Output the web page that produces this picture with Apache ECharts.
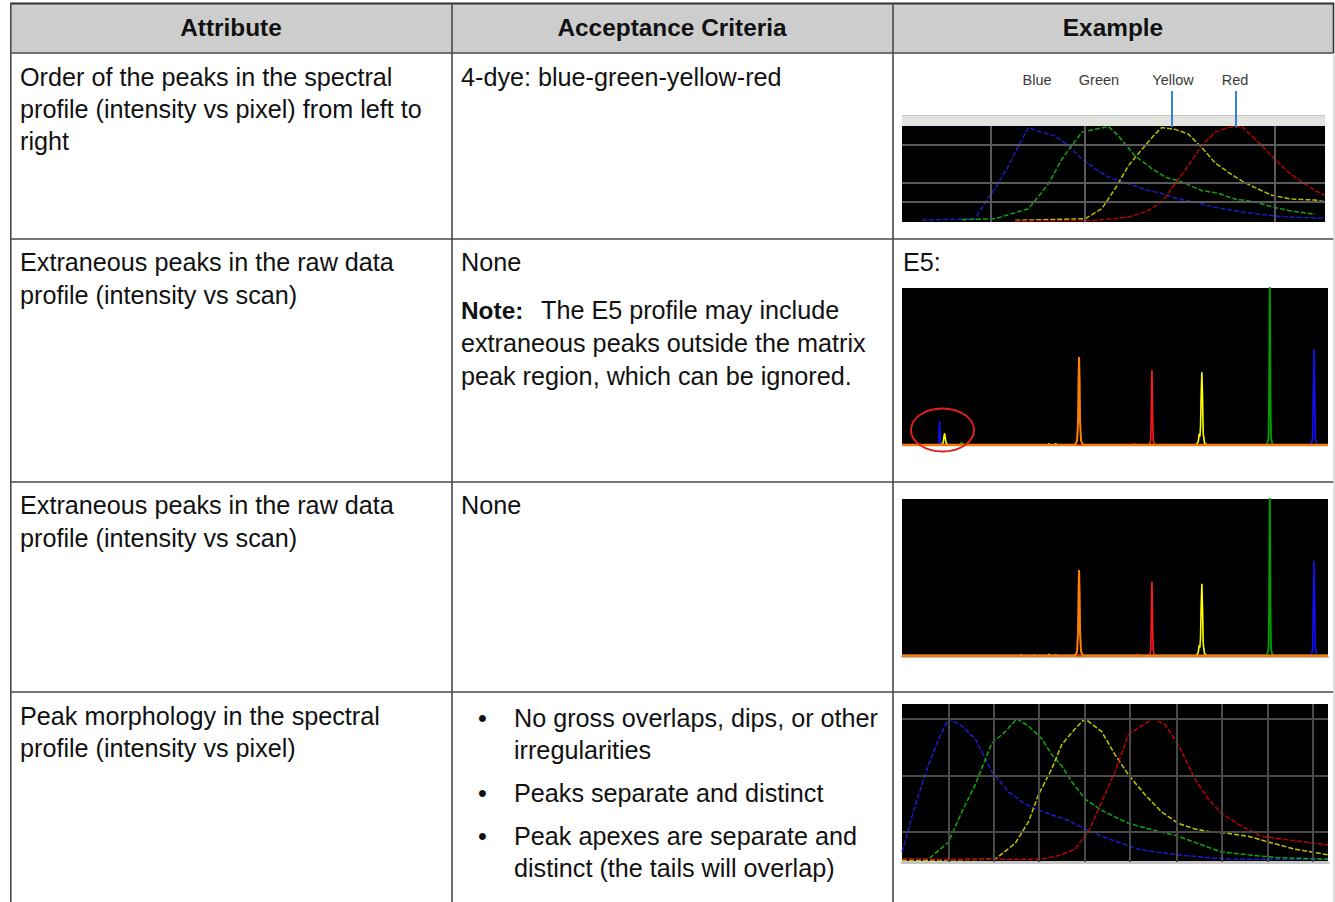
<!DOCTYPE html>
<html><head><meta charset="utf-8">
<script src="https://cdn.jsdelivr.net/npm/echarts@6/dist/echarts.min.js"></script>
<style>html,body{margin:0;padding:0;background:#fff}#main{width:1335px;height:902px}</style>
</head><body><div id="main"></div>
<script>
// ---------- table texts ----------
const headers = ['Attribute', 'Acceptance Criteria', 'Example'];
const attr1 = ['Order of the peaks in the spectral', 'profile (intensity vs pixel) from left to', 'right'];
const attr2 = ['Extraneous peaks in the raw data', 'profile (intensity vs scan)'];
const attr3 = ['Extraneous peaks in the raw data', 'profile (intensity vs scan)'];
const attr4 = ['Peak morphology in the spectral', 'profile (intensity vs pixel)'];
const crit1 = '4-dye: blue-green-yellow-red';
const crit2 = 'None';
const noteLabel = 'Note:';
const noteLines = ['The E5 profile may include', 'extraneous peaks outside the matrix', 'peak region, which can be ignored.'];
const crit3 = 'None';
const bullets4 = [['No gross overlaps, dips, or other', 'irregularities'], ['Peaks separate and distinct'], ['Peak apexes are separate and', 'distinct (the tails will overlap)']];
const dyeLabels = ['Blue', 'Green', 'Yellow', 'Red'];
const e5Label = 'E5:';

// ---------- example 1: spectral profile (pixel, intensity %) ----------
const spec1Blue = [[6,2],[22,3.5],[25,21],[28,35],[32,59],[35,80],[38,99],[41,95],[46,90],[50,80],[54,66],[58,56],[62,47],[68,40],[74,33],[78,30],[83,24],[88,21],[93,16],[98,13],[103,10],[108,8],[113,6],[118,5],[127,4]];
const spec1Green = [[18,2.4],[28,3.5],[38,14],[44,40],[48,66],[51,80],[54,94],[58,97],[62,100],[65,90],[70,69],[75,56],[79,47],[84,42],[90,33],[95,30],[100,24],[106,21],[111,16],[116,12],[124,8]];
const spec1Yellow = [[34,1.7],[55,3.5],[60,14],[64,35],[68,59],[72,76],[76,92],[78,99],[82,97],[86,92],[90,78],[94,62],[98,52],[102,43],[106,36],[111,28],[117,24],[124,23],[127,21]];
const spec1Red = [[34,1],[58,1.7],[68,5],[74,12],[78,21],[82,40],[86,59],[90,80],[94,94],[98,99],[102,100],[106,87],[111,69],[116,52],[120,42],[124,33],[127,28]];
const spec1GridX = [26.5, 55, 112];
const spec1GridY = [81, 40.6, 20.8];

// ---------- example 2: E5 raw data (scan, RFU) ----------
const e5Blue = [[0,0],[540,0],[555,150],[560,700],[565,1220],[570,700],[575,150],[590,0],[6140,0],[6170,300],[6180,2600],[6190,4880],[6200,2600],[6210,300],[6240,0],[6400,0]];
const e5Green = [[0,0],[880,0],[895,140],[910,0],[5480,0],[5505,300],[5515,2500],[5520,6000],[5525,8400],[5530,6000],[5535,2500],[5545,300],[5570,0],[6400,0]];
const e5Yellow = [[0,0],[600,0],[620,150],[632,450],[640,590],[648,400],[660,120],[690,0],[2200,0],[2210,60],[2220,0],[2300,0],[2310,80],[2320,0],[4420,0],[4450,150],[4465,560],[4475,420],[4485,900],[4495,2600],[4505,3700],[4515,2400],[4525,600],[4545,100],[4580,0],[6400,0]];
const e5Red = [[0,0],[3480,0],[3490,80],[3500,0],[3710,0],[3735,200],[3745,1400],[3750,3000],[3755,3820],[3760,3000],[3765,1400],[3775,200],[3800,0],[6400,0]];
const e5Orange = [[0,0],[2600,0],[2630,200],[2645,1200],[2652,3200],[2660,4480],[2668,3200],[2675,1200],[2690,200],[2720,0],[6400,0]];

// ---------- example 3: matrix raw data (scan, RFU) ----------
const mxBlue = [[0,0],[6140,0],[6170,300],[6180,2600],[6190,4820],[6200,2600],[6210,300],[6240,0],[6400,0]];
const mxGreen = [[0,0],[5480,0],[5505,300],[5515,2500],[5520,6000],[5525,8400],[5530,6000],[5535,2500],[5545,300],[5570,0],[6400,0]];
const mxYellow = [[0,0],[1780,0],[1790,60],[1800,0],[1980,0],[1990,50],[2000,0],[2200,0],[2210,80],[2220,0],[2300,0],[2310,60],[2320,0],[4420,0],[4450,150],[4465,530],[4475,400],[4485,900],[4495,2600],[4505,3670],[4515,2400],[4525,600],[4545,100],[4580,0],[6400,0]];
const mxRed = [[0,0],[3520,0],[3530,90],[3540,0],[3710,0],[3735,200],[3745,1400],[3750,2900],[3755,3770],[3760,2900],[3765,1400],[3775,200],[3800,0],[6400,0]];
const mxOrange = [[0,0],[2600,0],[2630,200],[2645,1200],[2652,3100],[2660,4370],[2668,3100],[2675,1200],[2690,200],[2720,0],[6400,0]];

// ---------- example 4: spectral profile morphology (pixel, intensity %) ----------
const spec4Blue = [[0,7],[4,40],[8,68],[11,86],[14,100],[18,95],[22,86],[27,63],[32,49],[36,42],[40,37],[45,33],[50,29],[55,23],[60,18],[66,13],[71,9],[76,7],[83,5],[92,3],[100,2],[128,2]];
const spec4Green = [[0,2],[8,2],[14,14],[18,35],[22,54],[27,83],[31,91],[34.5,100],[38,95],[42,86],[45,75],[48,67],[51,56],[55,44],[60,36],[68,27],[76,22],[83,18],[90,12],[96,7],[104,5],[113,3],[128,2]];
const spec4Yellow = [[0,1],[28,2],[34,13],[38,28],[41,47],[45,65],[48,82],[52,93],[55,100],[60,91],[64,75],[68,61],[73,47],[78,35],[83,27],[88,23],[93,21],[98,20],[104,18],[110,14],[118,9],[128,5]];
const spec4Red = [[0,2],[42,2],[48,5],[52,9],[56,21],[60,42],[64,63],[68,89],[72,95],[75.5,100],[79,96],[83,82],[88,58],[92,44],[96,34],[102,25],[108,18],[114,16],[121,14],[128,12]];
const spec4GridX = [14, 27.5, 41, 55, 68.5, 82.5, 96, 110, 123.5];
const spec4GridY = [100, 60.3, 21.3];

// ---------- build ----------
const FONT = '"Liberation Sans", Arial, Helvetica, sans-serif';
function T(text, x, y, o) {
  o = o || {};
  return { type: 'text', z: 50, style: { text: text, x: x, y: y,
    font: (o.bold ? 'bold ' : '') + (o.size || 25.2) + 'px ' + FONT,
    fill: o.fill || '#111', textAlign: o.align || 'left', textVerticalAlign: 'middle' } };
}
function L(x1, y1, x2, y2, stroke, w, z) {
  return { type: 'line', z: z || 40, shape: { x1: x1, y1: y1, x2: x2, y2: y2 }, style: { stroke: stroke, lineWidth: w } };
}

const graphics = [];
graphics.push({ type: 'rect', z: 1, shape: { x: 11, y: 4, width: 1322, height: 49 }, style: { fill: '#cdcdcd' } });
const B = '#4a4a4a';
graphics.push(L(10, 3.5, 1334, 3.5, '#333', 2));
graphics.push(L(10, 53, 1334, 53, B, 1.6));
graphics.push(L(10, 239, 1334, 239, B, 1.6));
graphics.push(L(10, 482, 1334, 482, B, 1.6));
graphics.push(L(10, 692, 1334, 692, B, 1.6));
graphics.push(L(10.8, 3, 10.8, 902, B, 1.6));
graphics.push(L(452, 3, 452, 902, B, 1.6));
graphics.push(L(893, 3, 893, 902, B, 1.6));
graphics.push(L(1333.5, 3, 1333.5, 53, '#333', 1.6));
graphics.push(L(1334, 53, 1334, 902, '#d4d4d4', 1.5));

// header texts
graphics.push(T(headers[0], 231, 27, { bold: true, align: 'center', size: 24.4 }));
graphics.push(T(headers[1], 672, 27, { bold: true, align: 'center', size: 24.4 }));
graphics.push(T(headers[2], 1113, 27, { bold: true, align: 'center', size: 24.4 }));

// row 1
attr1.forEach((s, i) => graphics.push(T(s, 20, 77 + i * 32)));
graphics.push(T(crit1, 461, 77));
// row 2
attr2.forEach((s, i) => graphics.push(T(s, 20, 262 + i * 33)));
graphics.push(T(crit2, 461, 262));
graphics.push(T(noteLabel, 461, 310, { bold: true, size: 24.4 }));
graphics.push(T(noteLines[0], 541, 310));
graphics.push(T(noteLines[1], 461, 343));
graphics.push(T(noteLines[2], 461, 376));
graphics.push(T(e5Label, 903, 262));
// row 3
attr3.forEach((s, i) => graphics.push(T(s, 20, 505 + i * 33)));
graphics.push(T(crit3, 461, 505));
// row 4
attr4.forEach((s, i) => graphics.push(T(s, 20, 716 + i * 32)));
let by = 718;
bullets4.forEach(b => {
  graphics.push(T('\u2022', 478, by));
  b.forEach((s, i) => { graphics.push(T(s, 514, by + i * 32)); });
  by += (b.length - 1) * 32 + 43;
});

// example 1 header strip & labels
graphics.push({ type: 'rect', z: 5, shape: { x: 902, y: 115, width: 423, height: 11 }, style: { fill: '#e3e3df' } });
graphics.push(L(902, 115.5, 1325, 115.5, '#c6c6c6', 1.2, 6));
const dyeX = [1037, 1099, 1173, 1235];
dyeLabels.forEach((s, i) => graphics.push(T(s, dyeX[i], 80, { size: 14.5, fill: '#3a3a3a', align: 'center' })));
graphics.push(L(1172, 91, 1172, 127, '#2f86c8', 2, 60));
graphics.push(L(1236, 91, 1236, 127, '#2f86c8', 2, 60));
// red ellipse on E5
graphics.push({ type: 'ellipse', z: 100, shape: { cx: 942.5, cy: 430, rx: 31.5, ry: 21.5 }, style: { fill: 'none', stroke: '#e0201c', lineWidth: 2 } });

function gridLineSeries(xi, xs, ys, color) {
  return { type: 'line', xAxisIndex: xi, yAxisIndex: xi, z: 1, data: [[xs[0], ys[0]]], showSymbol: false,
    lineStyle: { opacity: 0 }, silent: true,
    markLine: { silent: true, symbol: 'none', label: { show: false }, animation: false,
      lineStyle: { color: color, width: 2, type: 'solid' },
      data: xs.map(v => ({ xAxis: v })).concat(ys.map(v => ({ yAxis: v }))) } };
}
function S(idx, data, color, w, dashed) {
  return { type: 'line', xAxisIndex: idx, yAxisIndex: idx, z: 3, data: data, showSymbol: false, silent: true,
    lineStyle: { color: color, width: w, type: dashed ? [5, 2] : 'solid' } };
}

const option = {
  animation: false,
  backgroundColor: '#fff',
  graphic: { elements: graphics },
  grid: [
    { left: 902, top: 126, width: 423, height: 96, show: true, backgroundColor: '#000', borderWidth: 0 },
    { left: 902, top: 288, width: 426, height: 158, show: true, backgroundColor: '#000', borderWidth: 0 },
    { left: 902, top: 499, width: 426, height: 158, show: true, backgroundColor: '#000', borderWidth: 0 },
    { left: 902, top: 704, width: 426, height: 158, show: true, backgroundColor: '#000', borderWidth: 0 }
  ],
  xAxis: [
    { gridIndex: 0, type: 'value', min: 0, max: 127, show: false },
    { gridIndex: 1, type: 'value', min: 0, max: 6400, axisLine: { show: true, onZero: false, lineStyle: { color: '#e8e8e8', width: 1 } }, axisTick: { show: false }, axisLabel: { show: false }, splitLine: { show: false } },
    { gridIndex: 2, type: 'value', min: 0, max: 6400, axisLine: { show: true, onZero: false, lineStyle: { color: '#bdbdbd', width: 2 } }, axisTick: { show: false }, axisLabel: { show: false }, splitLine: { show: false } },
    { gridIndex: 3, type: 'value', min: 0, max: 128, axisLine: { show: true, onZero: false, lineStyle: { color: '#c4c4c4', width: 3 } }, axisTick: { show: false }, axisLabel: { show: false }, splitLine: { show: false } }
  ],
  yAxis: [
    { gridIndex: 0, type: 'value', min: 0, max: 100.5, show: false },
    { gridIndex: 1, type: 'value', min: -60, max: 8000, show: false },
    { gridIndex: 2, type: 'value', min: -70, max: 8000, show: false },
    { gridIndex: 3, type: 'value', min: 0, max: 110.3, show: false }
  ],
  series: [
    gridLineSeries(0, spec1GridX, spec1GridY, '#5a5a5a'),
    S(0, spec1Blue, '#1c1cc0', 1.5, true),
    S(0, spec1Green, '#16a016', 1.5, true),
    S(0, spec1Yellow, '#bcbc00', 1.5, true),
    S(0, spec1Red, '#b80000', 1.5, true),

    S(1, e5Blue, '#1010ff', 1.6),
    S(1, e5Green, '#00a000', 1.8),
    S(1, e5Yellow, '#ffff00', 1.6),
    S(1, e5Red, '#ff1a1a', 1.6),
    S(1, e5Orange, '#ff8000', 2),

    S(2, mxBlue, '#1010ff', 1.6),
    S(2, mxGreen, '#00a000', 1.8),
    S(2, mxYellow, '#ffff00', 1.6),
    S(2, mxRed, '#ff1a1a', 1.6),
    S(2, mxOrange, '#ff8000', 2),

    gridLineSeries(3, spec4GridX, spec4GridY, '#4a4a4a'),
    S(3, spec4Blue, '#1c1cd0', 1.5, true),
    S(3, spec4Green, '#10a810', 1.5, true),
    S(3, spec4Yellow, '#c4c400', 1.5, true),
    S(3, spec4Red, '#c00000', 1.5, true)
  ]
};
const chart = echarts.init(document.getElementById('main'), null, { renderer: 'svg', width: 1335, height: 902 });
chart.setOption(option);
</script>
</body></html>
